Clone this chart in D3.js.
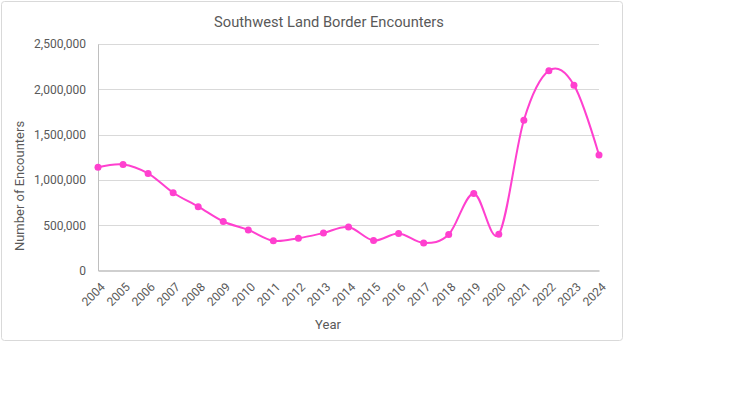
<!DOCTYPE html>
<html>
<head>
<meta charset="utf-8">
<script src="https://cdn.jsdelivr.net/npm/d3@7"></script>
<style>
  body { margin: 0; background: #fff; }
  text { font-family: Roboto, "Liberation Sans", sans-serif; fill: #595959; }
</style>
</head>
<body>
<svg id="chart" width="745" height="399"></svg>
<script>
// data
var years = ["2004","2005","2006","2007","2008","2009","2010","2011","2012","2013","2014",
             "2015","2016","2017","2018","2019","2020","2021","2022","2023","2024"];
var encounters = [1139000, 1171000, 1072000, 858000, 705000, 541000, 448000, 328000, 357000, 414000, 479000,
                  331000, 409000, 304000, 397000, 851000, 401000, 1659000, 2206000, 2046000, 1275000];
var yTicks = [0, 500000, 1000000, 1500000, 2000000, 2500000];

var svg = d3.select("#chart");
var margin = {left: 98, right: 146, top: 44, bottom: 128.5};
var w = 745 - margin.left - margin.right,
    h = 399 - margin.top - margin.bottom;

// outer chart frame
svg.append("rect")
    .attr("x", 1.5).attr("y", 1.5)
    .attr("width", 621).attr("height", 339)
    .attr("rx", 3)
    .attr("fill", "#fff")
    .attr("stroke", "#d9d9d9");

svg.append("text")
    .attr("x", 329).attr("y", 27)
    .attr("text-anchor", "middle")
    .style("font-size", "14.7px")
    .text("Southwest Land Border Encounters");

var g = svg.append("g")
    .attr("transform", "translate(" + margin.left + "," + margin.top + ")");

var x = d3.scalePoint().domain(years).range([0, w]);
var y = d3.scaleLinear().domain([0, 2500000]).range([h, 0]);

// gridlines
g.selectAll("line.grid")
    .data(yTicks.slice(1))
    .enter().append("line")
    .attr("class", "grid")
    .attr("x1", 0).attr("x2", w)
    .attr("y1", function(d) { return Math.round(y(d)) + 0.5; })
    .attr("y2", function(d) { return Math.round(y(d)) + 0.5; })
    .attr("stroke", "#d9d9d9");

// y axis
var yAxis = g.append("g")
    .call(d3.axisLeft(y).tickValues(yTicks).tickSize(0).tickPadding(12).tickFormat(d3.format(",")));
yAxis.select(".domain").attr("stroke", "#bfbfbf");
yAxis.selectAll("text").style("font-size", "12px").attr("fill", "#595959");

// x axis
var xAxis = g.append("g")
    .attr("transform", "translate(0," + h + ")")
    .call(d3.axisBottom(x).tickSize(0).tickPadding(6));
xAxis.select(".domain").attr("stroke", "#bfbfbf").attr("stroke-width", 1.3);
xAxis.selectAll("text")
    .style("font-size", "12px")
    .attr("fill", "#595959")
    .attr("text-anchor", "end")
    .attr("dy", "0.35em")
    .attr("transform", "translate(0,10) rotate(-45)");

// axis titles
svg.append("text")
    .attr("x", 328).attr("y", 329)
    .attr("text-anchor", "middle")
    .style("font-size", "13px")
    .text("Year");

svg.append("text")
    .attr("transform", "translate(24,186) rotate(-90)")
    .attr("text-anchor", "middle")
    .style("font-size", "13px")
    .text("Number of Encounters");

// smoothed line like the spreadsheet
var line = d3.line()
    .x(function(d, i) { return x(years[i]); })
    .y(function(d) { return y(d); })
    .curve(d3.curveCardinal.tension(0));

g.append("path")
    .datum(encounters)
    .attr("d", line)
    .attr("fill", "none")
    .attr("stroke", "#ff40cf")
    .attr("stroke-width", 2);

g.selectAll("circle")
    .data(encounters)
    .enter().append("circle")
    .attr("cx", function(d, i) { return x(years[i]); })
    .attr("cy", function(d) { return y(d); })
    .attr("r", 3.5)
    .attr("fill", "#ff40cf");
</script>
</body>
</html>
